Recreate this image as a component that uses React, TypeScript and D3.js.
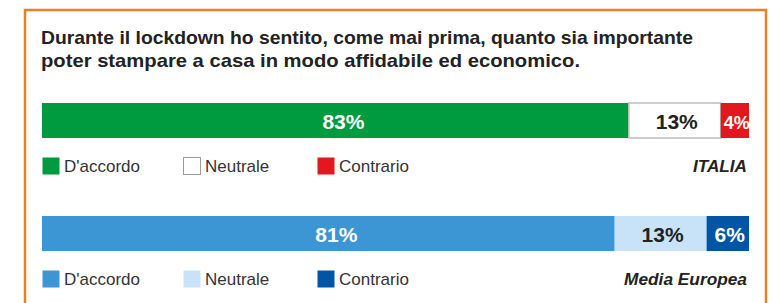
import React from 'react';
import * as d3 from 'd3';

// survey answers, percent
const categories = ["D'accordo", 'Neutrale', 'Contrario'];
const italia = [83, 13, 4];
const europa = [81, 13, 6];
const groups = ['ITALIA', 'Media Europea'];

const titleLines = [
  'Durante il lockdown ho sentito, come mai prima, quanto sia importante',
  'poter stampare a casa in modo affidabile ed economico.',
];

const italiaColors = ['#009a3f', '#ffffff', '#e3171e'];
const europaColors = ['#3d96d4', '#c8e3f7', '#0056a5'];
const italiaLabel = ['#ffffff', '#222222', '#ffffff'];
const europaLabel = ['#ffffff', '#222222', '#ffffff'];

const width = 773;
const height = 303;
const font = '"Liberation Sans", Arial, sans-serif';

const x = d3.scaleLinear().domain([0, 100]).range([42, 749]);

const rows = [
  { name: groups[0], nameW: 54, values: italia, colors: italiaColors, labels: italiaLabel, barY: 103, legendY: 166 },
  { name: groups[1], nameW: 123, values: europa, colors: europaColors, labels: europaLabel, barY: 216, legendY: 279 },
];

const legendX = [42, 183, 317];
const barH = 35;

const Row = ({ row }) => {
  const ends = d3.cumsum(row.values);
  return (
    <g>
      {row.values.map((v, i) => {
        const x0 = x(ends[i] - v);
        const x1 = x(ends[i]);
        const isWhite = row.colors[i] === '#ffffff';
        return (
          <g key={i}>
            <rect
              x={x0}
              y={row.barY}
              width={x1 - x0}
              height={barH}
              fill={row.colors[i]}
              stroke={isWhite ? '#bdbdbd' : 'none'}
              strokeWidth={isWhite ? 1.5 : 0}
            />
            <text
              x={(x0 + x1) / 2 + (i === 0 ? 8 : 2)}
              y={row.barY + barH / 2 + 8}
              textAnchor="middle"
              fontFamily={font}
              fontWeight="bold"
              fontSize={v < 5 ? 18 : 21}
              fill={row.labels[i]}
            >
              {v}%
            </text>
          </g>
        );
      })}
      {categories.map((c, i) => {
        const isWhite = row.colors[i] === '#ffffff';
        return (
          <g key={c} transform={`translate(${legendX[i]},${row.legendY})`}>
            <rect
              x={0.5}
              y={-8.5}
              width={17}
              height={17}
              fill={row.colors[i]}
              stroke={isWhite ? '#9a9a9a' : 'none'}
              strokeWidth={1}
            />
            <text x={22} y={6} fontFamily={font} fontSize={17} fill="#333">
              {c}
            </text>
          </g>
        );
      })}
      <text
        x={747}
        y={row.legendY + 6}
        textAnchor="end"
        fontFamily={font}
        fontSize={16}
        fontWeight="bold"
        fontStyle="italic"
        fill="#222"
        textLength={row.nameW}
        lengthAdjust="spacingAndGlyphs"
      >
        {row.name}
      </text>
    </g>
  );
};

export default function App() {
  return (
    <svg
      width={width}
      height={height}
      style={{ position: 'absolute', left: 0, top: 0, background: '#fff' }}
    >
      <path d={`M25,${height} V10 H766 V${height}`} fill="none" stroke="#e8802a" strokeWidth={2.5} />
      {titleLines.map((t, i) => (
        <text
          key={i}
          x={41}
          y={44 + i * 23}
          fontFamily={font}
          fontWeight="bold"
          fontSize={19}
          fill="#222"
          textLength={i === 0 ? 652 : 539}
          lengthAdjust="spacingAndGlyphs"
        >
          {t}
        </text>
      ))}
      {rows.map(r => (
        <Row key={r.name} row={r} />
      ))}
    </svg>
  );
}
